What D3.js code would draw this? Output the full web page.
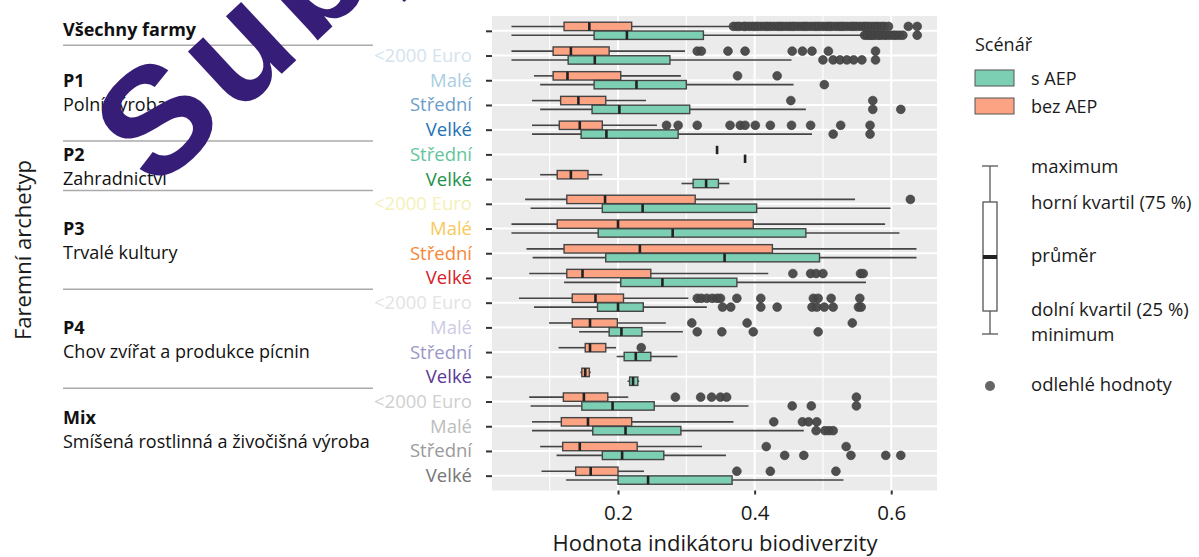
<!DOCTYPE html>
<html>
<head>
<meta charset="utf-8">
<script src="https://cdn.jsdelivr.net/npm/d3@7"></script>
<style>
  body { margin: 0; background: #fff; }
  svg { display: block; font-family: "Open Sans", sans-serif; }
</style>
</head>
<body>
<script>
// row labels, top to bottom (first row = all farms, no label)
var categories = ["", "<2000 Euro", "Malé", "Střední", "Velké", "Střední", "Velké",
  "<2000 Euro", "Malé", "Střední", "Velké", "<2000 Euro", "Malé", "Střední", "Velké",
  "<2000 Euro", "Malé", "Střední", "Velké"]
var labelColors = ["#333", "#d3e3ee", "#a9cde0", "#6c9ec9", "#2373b3", "#62c59a", "#22914a",
  "#f4f0b8", "#f9c95b", "#f5873a", "#d7202a", "#e3e3e3", "#cdcbe3", "#9b98c8", "#5a3796",
  "#cfcfcf", "#bdbdbd", "#9a9a9a", "#757575"]

var groupTitles = ["Všechny farmy", "P1", "P2", "P3", "P4", "Mix"]
var groupSubtitles = ["", "Polní výroba", "Zahradnictví", "Trvalé kultury",
  "Chov zvířat a produkce pícnin", "Smíšená rostlinná a živočišná výroba"]
var groupRows = [[0, 0], [1, 4], [5, 6], [7, 10], [11, 14], [15, 18]]

var scenarios = ["s AEP", "bez AEP"]
var xTicks = [0.2, 0.4, 0.6]

// [min, q1, median, q3, max]
var statsBez = [
  [0.044, 0.121, 0.158, 0.220, 0.367],
  [0.044, 0.105, 0.131, 0.187, 0.298],
  [0.077, 0.105, 0.126, 0.204, 0.292],
  [0.074, 0.116, 0.142, 0.182, 0.241],
  [0.074, 0.114, 0.144, 0.177, 0.257],
  [0.345, 0.345, 0.345, 0.345, 0.345],
  [0.086, 0.111, 0.131, 0.156, 0.177],
  [0.064, 0.125, 0.181, 0.313, 0.547],
  [0.044, 0.111, 0.200, 0.398, 0.591],
  [0.066, 0.121, 0.232, 0.426, 0.637],
  [0.070, 0.125, 0.148, 0.248, 0.420],
  [0.055, 0.133, 0.167, 0.208, 0.303],
  [0.099, 0.133, 0.159, 0.199, 0.270],
  [0.113, 0.152, 0.159, 0.182, 0.197],
  [0.145, 0.147, 0.152, 0.158, 0.160],
  [0.070, 0.120, 0.150, 0.185, 0.215],
  [0.074, 0.117, 0.156, 0.220, 0.369],
  [0.086, 0.119, 0.144, 0.228, 0.323],
  [0.088, 0.138, 0.160, 0.200, 0.238]
]
var statsS = [
  [0.044, 0.165, 0.213, 0.325, 0.559],
  [0.044, 0.127, 0.166, 0.276, 0.454],
  [0.086, 0.165, 0.227, 0.300, 0.457],
  [0.086, 0.162, 0.202, 0.305, 0.475],
  [0.074, 0.146, 0.183, 0.288, 0.484],
  [0.386, 0.386, 0.386, 0.386, 0.386],
  [0.293, 0.310, 0.329, 0.347, 0.363],
  [0.072, 0.177, 0.236, 0.403, 0.599],
  [0.044, 0.171, 0.280, 0.475, 0.612],
  [0.075, 0.182, 0.356, 0.495, 0.637],
  [0.121, 0.204, 0.265, 0.374, 0.563],
  [0.077, 0.170, 0.200, 0.237, 0.330],
  [0.143, 0.187, 0.205, 0.235, 0.295],
  [0.198, 0.209, 0.226, 0.248, 0.287],
  [0.214, 0.217, 0.222, 0.229, 0.231],
  [0.072, 0.147, 0.192, 0.253, 0.391],
  [0.074, 0.163, 0.211, 0.292, 0.472],
  [0.110, 0.177, 0.206, 0.267, 0.358],
  [0.124, 0.200, 0.244, 0.367, 0.530]
]

var outBez = [
  [0.369, 0.374, 0.378, 0.384, 0.387, 0.392, 0.397, 0.401, 0.405, 0.41, 0.415, 0.419, 0.423,
   0.428, 0.433, 0.437, 0.441, 0.446, 0.451, 0.455, 0.459, 0.464, 0.469, 0.473, 0.477, 0.482,
   0.487, 0.491, 0.495, 0.5, 0.505, 0.509, 0.513, 0.518, 0.523, 0.527, 0.531, 0.536, 0.541,
   0.545, 0.549, 0.554, 0.559, 0.563, 0.567, 0.572, 0.577, 0.581, 0.586, 0.59, 0.596, 0.625, 0.638],
  [0.316, 0.322, 0.361, 0.386, 0.455, 0.470, 0.484, 0.508, 0.577],
  [0.375, 0.433],
  [0.453, 0.573],
  [0.271, 0.288, 0.316, 0.364, 0.379, 0.386, 0.401, 0.423, 0.454, 0.482, 0.526, 0.569],
  [],
  [],
  [0.628],
  [],
  [],
  [0.456, 0.482, 0.490, 0.500, 0.555, 0.559],
  [0.316, 0.322, 0.330, 0.338, 0.345, 0.350, 0.374, 0.409, 0.486, 0.493, 0.512, 0.554],
  [0.308, 0.389, 0.543],
  [0.234],
  [],
  [0.284, 0.321, 0.337, 0.350, 0.359, 0.549],
  [0.428, 0.470, 0.479, 0.491],
  [0.417, 0.534],
  [0.374, 0.423, 0.519]
]
var outS = [
  [0.561, 0.565, 0.569, 0.572, 0.576, 0.581, 0.584, 0.589, 0.593, 0.598, 0.603, 0.607, 0.612,
   0.617, 0.638],
  [0.500, 0.515, 0.525, 0.535, 0.545, 0.557, 0.577],
  [0.502],
  [0.573, 0.614],
  [0.515, 0.569],
  [],
  [],
  [],
  [],
  [],
  [],
  [0.353, 0.365, 0.409, 0.433, 0.484, 0.491, 0.502, 0.515, 0.552, 0.556],
  [0.316, 0.352, 0.398, 0.493],
  [],
  [],
  [0.455, 0.483, 0.549],
  [0.490, 0.503, 0.509, 0.515],
  [0.444, 0.472, 0.541, 0.592, 0.614],
  []
]

var fills = {"s AEP": "#7ccfb2", "bez AEP": "#fca383"}

var W = 1199, H = 557
var svg = d3.select('body').append('svg').attr('width', W).attr('height', H)

var x = d3.scaleLinear().domain([0.0155, 0.667]).range([492, 937])
var y = d3.scalePoint().domain(d3.range(categories.length)).range([16, 490.5]).padding(0.6)
var panel = {x0: 492, x1: 937, y0: 16, y1: 490.5}

// panel background + grid
svg.append('rect').attr('x', panel.x0).attr('y', panel.y0)
  .attr('width', panel.x1 - panel.x0).attr('height', panel.y1 - panel.y0).attr('fill', '#ebebeb')

var minor = [0.1, 0.3, 0.5]
svg.selectAll('line.minor').data(minor).join('line')
  .attr('x1', d => x(d)).attr('x2', d => x(d)).attr('y1', panel.y0).attr('y2', panel.y1)
  .attr('stroke', '#fff').attr('stroke-width', 1.1)
svg.selectAll('line.vmajor').data(xTicks).join('line')
  .attr('x1', d => x(d)).attr('x2', d => x(d)).attr('y1', panel.y0).attr('y2', panel.y1)
  .attr('stroke', '#fff').attr('stroke-width', 2)
svg.selectAll('line.hmajor').data(y.domain()).join('line')
  .attr('x1', panel.x0).attr('x2', panel.x1).attr('y1', d => y(d)).attr('y2', d => y(d))
  .attr('stroke', '#fff').attr('stroke-width', 2)

// boxplots
var dodge = {"bez AEP": -4.4, "s AEP": 4.4}
var halfH = 4.2
function drawBoxes(stats, outs, key) {
  var g = svg.append('g')
  stats.forEach(function(s, i) {
    var cy = y(i) + dodge[key]
    g.append('line').attr('x1', x(s[0])).attr('x2', x(s[1])).attr('y1', cy).attr('y2', cy)
      .attr('stroke', '#454545').attr('stroke-width', 1.6)
    g.append('line').attr('x1', x(s[3])).attr('x2', x(s[4])).attr('y1', cy).attr('y2', cy)
      .attr('stroke', '#454545').attr('stroke-width', 1.6)
    g.append('rect').attr('x', x(s[1])).attr('y', cy - halfH)
      .attr('width', Math.max(0, x(s[3]) - x(s[1]))).attr('height', halfH * 2)
      .attr('fill', fills[key]).attr('stroke', '#454545').attr('stroke-width', 1.4)
    g.append('line').attr('x1', x(s[2])).attr('x2', x(s[2]))
      .attr('y1', cy - halfH).attr('y2', cy + halfH)
      .attr('stroke', '#222').attr('stroke-width', 2.6)
    g.selectAll(null).data(outs[i]).join('circle')
      .attr('cx', d => x(d)).attr('cy', cy).attr('r', 4.4)
      .attr('fill', '#474747').attr('fill-opacity', 0.95).attr('stroke', '#3a3a3a').attr('stroke-width', 0.6)
  })
}
drawBoxes(statsBez, outBez, "bez AEP")
drawBoxes(statsS, outS, "s AEP")

// axes
var yAxis = d3.axisLeft(y).tickSize(6).tickPadding(14).tickFormat(i => categories[i])
var yg = svg.append('g').attr('transform', 'translate(' + panel.x0 + ',0)').call(yAxis)
yg.select('.domain').remove()
yg.selectAll('.tick line').attr('stroke', '#333').attr('stroke-width', 2)
yg.selectAll('.tick text').attr('fill', i => labelColors[i])
  .style('font-size', '18.5px').style('font-family', '"Open Sans", sans-serif')

var xAxis = d3.axisBottom(x).tickValues(xTicks).tickSize(4).tickPadding(11).tickFormat(d3.format('.1f'))
var xg = svg.append('g').attr('transform', 'translate(0,' + panel.y1 + ')').call(xAxis)
xg.select('.domain').remove()
xg.selectAll('.tick line').attr('stroke', '#333').attr('stroke-width', 2)
xg.selectAll('.tick text').attr('fill', '#1a1a1a')
  .style('font-size', '20.5px').style('font-family', '"Open Sans", sans-serif')

svg.append('text').attr('x', 715).attr('y', 551).attr('text-anchor', 'middle')
  .style('font-size', '22px').attr('fill', '#1a1a1a').text('Hodnota indikátoru biodiverzity')

svg.append('text').attr('transform', 'translate(31,250) rotate(-90)').attr('text-anchor', 'middle')
  .style('font-size', '22px').attr('fill', '#1a1a1a').text('Faremní archetyp')

// left group panel
var gl = svg.append('g')
groupTitles.forEach(function(t, k) {
  var r = groupRows[k]
  var c = (y(r[0]) + y(r[1])) / 2
  if (k == 0) {
    gl.append('text').attr('x', 63).attr('y', 36).style('font-size', '18px')
      .style('font-weight', 700).attr('fill', '#111').text(t)
    return
  }
  var shift = k == 5 ? -9 : 0
  gl.append('text').attr('x', 63).attr('y', c - 6 + shift).style('font-size', '18px')
    .style('font-weight', 700).attr('fill', '#111').text(t)
  gl.append('text').attr('x', 63).attr('y', c + 18 + shift).style('font-size', '18px')
    .attr('fill', '#111').text(groupSubtitles[k])
})
// separators between groups
groupRows.slice(0, -1).forEach(function(r, k) {
  var yy = (y(r[1]) + y(r[1] + 1)) / 2 - 1
  if (k == 0) yy += 3
  gl.append('line').attr('x1', 63).attr('x2', 373).attr('y1', yy).attr('y2', yy)
    .attr('stroke', '#aaa').attr('stroke-width', 1.5)
})

// legend: scenario
var lg = svg.append('g')
lg.append('text').attr('x', 975).attr('y', 51).style('font-size', '18px').attr('fill', '#1a1a1a').text('Scénář')
scenarios.forEach(function(s, k) {
  lg.append('rect').attr('x', 975).attr('y', 70 + k * 28).attr('width', 39).attr('height', 16)
    .attr('fill', fills[s]).attr('stroke', '#555').attr('stroke-width', 1)
  lg.append('text').attr('x', 1031).attr('y', 85 + k * 28).style('font-size', '18px')
    .attr('fill', '#1a1a1a').text(s)
})

// legend: boxplot explanation
var bx = 990
lg.append('line').attr('x1', bx - 8).attr('x2', bx + 8).attr('y1', 166).attr('y2', 166).attr('stroke', '#555').attr('stroke-width', 1.3)
lg.append('line').attr('x1', bx).attr('x2', bx).attr('y1', 166).attr('y2', 202).attr('stroke', '#555').attr('stroke-width', 1.3)
lg.append('rect').attr('x', bx - 7).attr('y', 202).attr('width', 14).attr('height', 109)
  .attr('fill', '#fff').attr('stroke', '#555').attr('stroke-width', 1.3)
lg.append('rect').attr('x', bx - 7).attr('y', 255).attr('width', 14).attr('height', 4).attr('fill', '#222')
lg.append('line').attr('x1', bx).attr('x2', bx).attr('y1', 311).attr('y2', 334).attr('stroke', '#555').attr('stroke-width', 1.3)
lg.append('line').attr('x1', bx - 8).attr('x2', bx + 8).attr('y1', 334).attr('y2', 334).attr('stroke', '#555').attr('stroke-width', 1.3)
lg.append('circle').attr('cx', bx).attr('cy', 386).attr('r', 5).attr('fill', '#666')

var legendTexts = ["maximum", "horní kvartil (75 %)", "průměr", "dolní kvartil (25 %)", "minimum", "odlehlé hodnoty"]
var legendBase = [173, 209, 262, 316, 341, 391]
legendTexts.forEach(function(t, k) {
  lg.append('text').attr('x', 1031).attr('y', legendBase[k]).style('font-size', '18.5px')
    .attr('fill', '#1a1a1a').text(t)
})

// watermark
svg.append('text').attr('transform', 'translate(155,192) rotate(-43)')
  .style('font-family', '"Liberation Sans", Arial, sans-serif').style('font-weight', 700)
  .style('font-size', '152px').style('letter-spacing', '9px')
  .attr('fill', '#361d78').text('Subject')
</script>
</body>
</html>
